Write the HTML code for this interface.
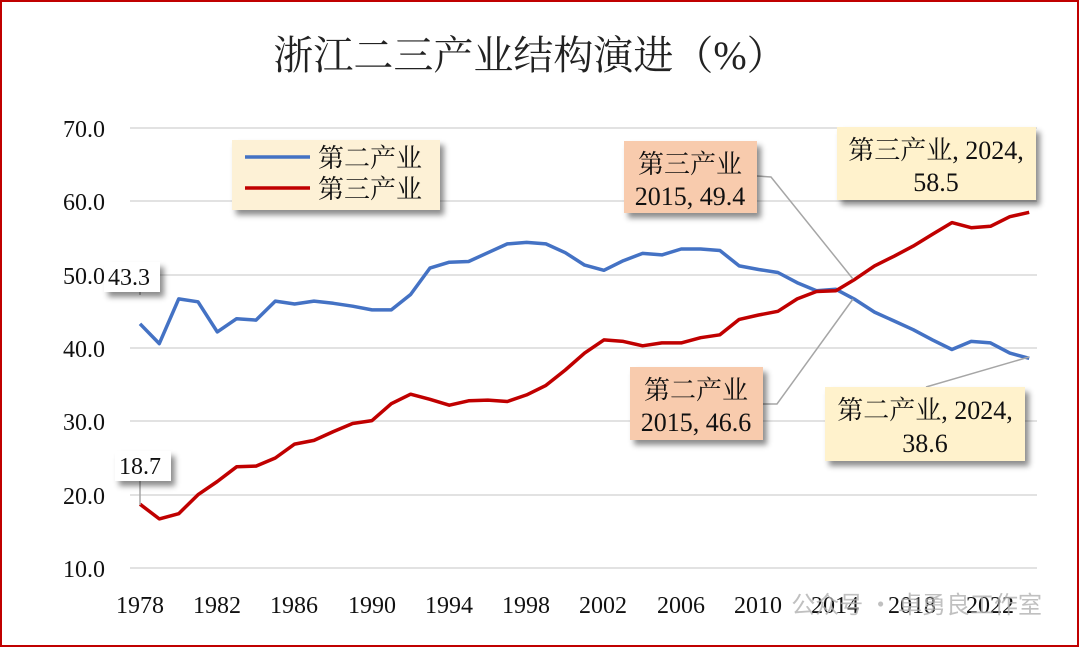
<!DOCTYPE html>
<html><head><meta charset="utf-8"><style>
body{margin:0;background:#fff;}
svg text{font-family:"Liberation Serif","Noto Serif CJK SC",serif;}
</style></head><body>
<svg width="1080" height="648" viewBox="0 0 1080 648" xmlns="http://www.w3.org/2000/svg">
<defs><filter id="sh" x="-20%" y="-20%" width="150%" height="150%"><feDropShadow dx="4" dy="5" stdDeviation="3" flood-color="#000" flood-opacity="0.45"/></filter></defs>
<rect x="1" y="1" width="1077" height="645" fill="#fff" stroke="#c00000" stroke-width="2"/>
<text x="530" y="69" font-size="40" text-anchor="middle" fill="#222">浙江二三产业结构演进（%）</text>
<g stroke="#d9d9d9" stroke-width="1.5">
<line x1="130" x2="1037" y1="128" y2="128"/><line x1="130" x2="1037" y1="201" y2="201"/>
<line x1="130" x2="1037" y1="275" y2="275"/><line x1="130" x2="1037" y1="348" y2="348"/>
<line x1="130" x2="1037" y1="421" y2="421"/><line x1="130" x2="1037" y1="495" y2="495"/>
<line x1="130" x2="1037" y1="568" y2="568"/>
</g>
<g font-size="24" fill="#111" text-anchor="end">
<text x="105" y="137">70.0</text><text x="105" y="210">60.0</text><text x="105" y="284">50.0</text>
<text x="105" y="357">40.0</text><text x="105" y="430">30.0</text><text x="105" y="504">20.0</text><text x="105" y="577">10.0</text>
</g>
<g font-size="24" fill="#111" text-anchor="middle">
<text x="140" y="613">1978</text><text x="217" y="613">1982</text><text x="294" y="613">1986</text><text x="372" y="613">1990</text>
<text x="449" y="613">1994</text><text x="526" y="613">1998</text><text x="603" y="613">2002</text><text x="681" y="613">2006</text>
<text x="758" y="613">2010</text><text x="835" y="613">2014</text><text x="912" y="613">2018</text><text x="990" y="613">2022</text>
</g>
<polyline id="b" fill="none" stroke="#4472c4" stroke-width="3.5" stroke-linejoin="round" points=""/>
<polyline id="r" fill="none" stroke="#c00000" stroke-width="3.5" stroke-linejoin="round" points=""/>
<g stroke="#a6a6a6" stroke-width="1.5" fill="none">
<polyline points="757,176 771,177 853,279"/>
<polyline points="763,404 777,404 853,299"/>
<polyline points="926,387 1029,357"/>
<polyline points="140,268 140,295"/>
<polyline points="140,478 140,505"/>
</g>
<g filter="url(#sh)">
<rect x="232" y="140" width="208" height="70" fill="#fdf1d6"/>
<rect x="624" y="141" width="133" height="72" fill="#f8cbad"/>
<rect x="837" y="127" width="199" height="73" fill="#fff2cc"/>
<rect x="630" y="367" width="133" height="73" fill="#f8cbad"/>
<rect x="825" y="387" width="200" height="74" fill="#fff2cc"/>
<rect x="104" y="262" width="56" height="30" fill="#fff"/>
<rect x="115" y="451" width="56" height="30" fill="#fff"/>
</g>
<line x1="245" x2="310" y1="157" y2="157" stroke="#4472c4" stroke-width="3.5"/>
<line x1="245" x2="310" y1="188" y2="188" stroke="#c00000" stroke-width="3.5"/>
<g font-size="26" fill="#111">
<text x="318" y="167">第二产业</text><text x="318" y="198">第三产业</text>
<text x="690" y="173" text-anchor="middle">第三产业</text><text x="690" y="205" text-anchor="middle">2015, 49.4</text>
<text x="936" y="159" text-anchor="middle">第三产业, 2024,</text><text x="936" y="191" text-anchor="middle">58.5</text>
<text x="696" y="399" text-anchor="middle">第二产业</text><text x="696" y="431" text-anchor="middle">2015, 46.6</text>
<text x="925" y="419" text-anchor="middle">第二产业, 2024,</text><text x="925" y="452" text-anchor="middle">38.6</text>
</g>
<g font-size="24" fill="#111">
<text x="108" y="285">43.3</text><text x="119" y="474">18.7</text>
</g>
<text x="1042" y="613" font-size="24" fill="#b0b0b0" fill-opacity="0.8" text-anchor="end" style="font-family:'Noto Sans CJK SC',sans-serif">公众号 · 卓勇良工作室</text>
<script>
var B=[43.3,40.6,46.7,46.3,42.2,44.0,43.8,46.4,46.0,46.4,46.1,45.7,45.2,45.2,47.3,50.9,51.7,51.8,53.0,54.2,54.4,54.2,53.0,51.3,50.6,51.9,52.9,52.7,53.5,53.5,53.3,51.2,50.7,50.3,48.9,47.8,48.0,46.6,44.9,43.7,42.5,41.1,39.8,40.9,40.7,39.3,38.6];
var R=[18.7,16.7,17.4,20.0,21.8,23.8,23.9,25.0,26.9,27.4,28.6,29.7,30.1,32.4,33.7,33.0,32.2,32.8,32.9,32.7,33.6,34.9,37.0,39.3,41.1,40.9,40.3,40.7,40.7,41.4,41.8,43.9,44.5,45.0,46.7,47.7,47.8,49.4,51.2,52.5,53.9,55.5,57.1,56.4,56.6,57.9,58.5];
function p(a){return a.map(function(v,i){return (140+i*19.33).toFixed(1)+","+(568-(v-10)*7.333).toFixed(1)}).join(" ")}
document.getElementById("b").setAttribute("points",p(B));
document.getElementById("r").setAttribute("points",p(R));
</script>
</svg>
</body></html>
